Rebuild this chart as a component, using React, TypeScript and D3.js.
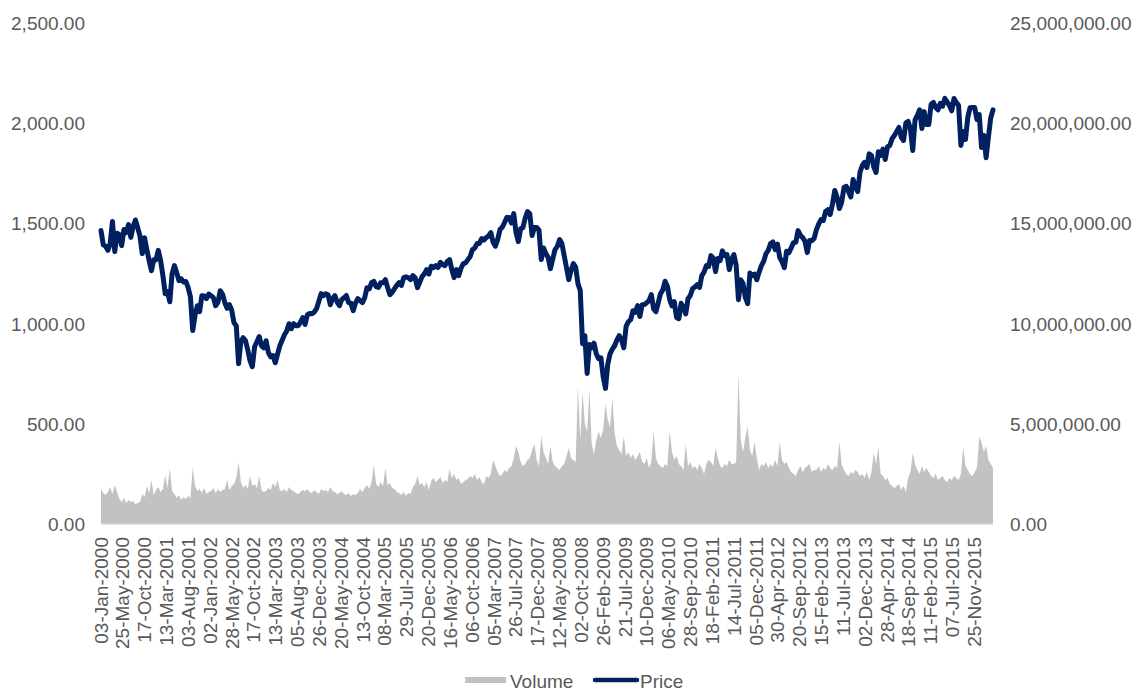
import React from "react";
import * as d3 from "d3";

// Category labels (every 100th trading day)
const xLabels = [
  "03-Jan-2000", "25-May-2000", "17-Oct-2000", "13-Mar-2001", "03-Aug-2001",
  "02-Jan-2002", "28-May-2002", "17-Oct-2002", "13-Mar-2003", "05-Aug-2003",
  "26-Dec-2003", "20-May-2004", "13-Oct-2004", "08-Mar-2005", "29-Jul-2005",
  "20-Dec-2005", "16-May-2006", "06-Oct-2006", "05-Mar-2007", "26-Jul-2007",
  "17-Dec-2007", "12-May-2008", "02-Oct-2008", "26-Feb-2009", "21-Jul-2009",
  "10-Dec-2009", "06-May-2010", "28-Sep-2010", "18-Feb-2011", "14-Jul-2011",
  "05-Dec-2011", "30-Apr-2012", "20-Sep-2012", "15-Feb-2013", "11-Jul-2013",
  "02-Dec-2013", "28-Apr-2014", "18-Sep-2014", "11-Feb-2015", "07-Jul-2015",
  "25-Nov-2015",
];
const labelEvery = 100;
const tradingDays = 4086;

// Price, two readings per month
const price2000 = [1465, 1394, 1387, 1366, 1400, 1510, 1360, 1452, 1445, 1390, 1470, 1455, 1495, 1431, 1485, 1518, 1480, 1437, 1350, 1429, 1370, 1315, 1265, 1320];
const price2001 = [1320, 1366, 1315, 1240, 1150, 1160, 1110, 1249, 1290, 1256, 1215, 1224, 1208, 1211, 1180, 1134, 966, 1041, 1090, 1060, 1140, 1139, 1125, 1148];
const price2002 = [1140, 1130, 1090, 1107, 1165, 1147, 1105, 1077, 1095, 1067, 1005, 990, 800, 912, 930, 916, 870, 815, 785, 886, 910, 936, 890, 880];
const price2003 = [915, 856, 835, 841, 805, 848, 890, 917, 945, 964, 1000, 975, 1000, 990, 990, 1008, 1030, 996, 1045, 1051, 1050, 1058, 1075, 1112];
const price2004 = [1150, 1140, 1150, 1145, 1095, 1126, 1140, 1107, 1090, 1121, 1130, 1141, 1105, 1102, 1065, 1104, 1125, 1115, 1105, 1130, 1180, 1174, 1205, 1212];
const price2005 = [1185, 1181, 1205, 1204, 1220, 1181, 1145, 1157, 1175, 1192, 1205, 1191, 1230, 1234, 1230, 1220, 1240, 1229, 1180, 1207, 1235, 1249, 1270, 1248];
const price2006 = [1287, 1280, 1290, 1281, 1307, 1295, 1290, 1311, 1320, 1270, 1230, 1270, 1240, 1277, 1300, 1304, 1320, 1336, 1370, 1378, 1400, 1401, 1425, 1418];
const price2007 = [1430, 1438, 1455, 1407, 1387, 1421, 1470, 1482, 1505, 1531, 1530, 1503, 1550, 1455, 1410, 1474, 1480, 1527, 1560, 1549, 1440, 1481, 1480, 1468];
const price2008 = [1320, 1378, 1350, 1331, 1275, 1323, 1370, 1386, 1420, 1400, 1340, 1280, 1220, 1267, 1300, 1283, 1200, 1166, 900, 940, 752, 896, 880, 903];
const price2009 = [850, 826, 830, 735, 677, 798, 850, 873, 890, 919, 940, 919, 880, 987, 1010, 1021, 1065, 1057, 1090, 1036, 1095, 1096, 1105, 1115];
const price2010 = [1145, 1074, 1060, 1104, 1150, 1169, 1212, 1187, 1120, 1089, 1110, 1031, 1025, 1102, 1080, 1049, 1125, 1141, 1175, 1183, 1195, 1181, 1240, 1258];
const price2011 = [1290, 1286, 1340, 1327, 1260, 1326, 1315, 1364, 1340, 1345, 1270, 1321, 1345, 1292, 1120, 1219, 1200, 1131, 1100, 1253, 1240, 1247, 1220, 1258];
const price2012 = [1290, 1312, 1350, 1366, 1400, 1408, 1370, 1398, 1330, 1310, 1280, 1362, 1355, 1379, 1405, 1407, 1465, 1441, 1430, 1412, 1355, 1416, 1415, 1426];
const price2013 = [1470, 1498, 1520, 1515, 1560, 1569, 1545, 1598, 1665, 1631, 1575, 1606, 1680, 1686, 1660, 1633, 1720, 1682, 1660, 1757, 1790, 1806, 1780, 1848];
const price2014 = [1840, 1783, 1755, 1859, 1840, 1872, 1820, 1884, 1890, 1924, 1940, 1960, 1980, 1931, 1915, 2003, 2010, 1972, 1865, 2018, 2040, 2068, 1975, 2059];
const price2015 = [1995, 1995, 2095, 2105, 2080, 2068, 2100, 2086, 2125, 2107, 2090, 2063, 2125, 2104, 2090, 1890, 1960, 1920, 2030, 2079, 2080, 2080, 2020, 2044];
const price2016 = [1880, 1940, 1829, 1932, 2027, 2068];

// Volume (millions), two readings per month
const volume2000 = [1.75, 1.55, 1.45, 1.6, 1.85, 1.5, 1.95, 1.6, 1.25, 1.1, 1.3, 1.05, 1.2, 1.1, 1.15, 1.0, 1.05, 1.1, 1.5, 1.35, 1.9, 1.55, 2.2, 1.45];
const volume2001 = [1.7, 1.85, 1.6, 1.75, 2.45, 1.8, 2.8, 1.65, 1.5, 1.3, 1.45, 1.2, 1.35, 1.25, 1.4, 1.3, 2.85, 1.9, 1.65, 1.75, 1.55, 1.8, 1.5, 1.6];
const volume2002 = [1.65, 1.8, 1.55, 1.75, 1.6, 1.7, 1.75, 2.2, 1.7, 1.9, 2.0, 2.3, 3.1, 2.1, 1.8, 1.95, 1.75, 2.4, 1.9, 2.0, 1.8, 2.4, 1.7, 1.6];
const volume2003 = [1.65, 1.8, 1.7, 2.05, 1.85, 2.2, 1.7, 1.65, 1.75, 1.6, 1.85, 1.7, 1.65, 1.55, 1.5, 1.6, 1.7, 1.65, 1.75, 1.6, 1.55, 1.7, 1.6, 1.5];
const volume2004 = [1.75, 1.65, 1.7, 1.6, 1.85, 1.65, 1.6, 1.5, 1.55, 1.65, 1.5, 1.45, 1.55, 1.4, 1.5, 1.45, 1.55, 1.75, 1.6, 1.8, 1.95, 1.75, 2.1, 2.95];
const volume2005 = [2.0, 1.85, 2.1, 1.9, 2.8, 1.95, 2.05, 1.8, 1.75, 1.6, 1.55, 1.45, 1.6, 1.4, 1.55, 1.5, 1.85, 2.0, 2.4, 1.95, 2.05, 1.85, 2.1, 1.7];
const volume2006 = [2.15, 2.3, 2.1, 2.2, 2.35, 2.05, 2.2, 2.1, 2.75, 2.3, 2.5, 2.2, 2.3, 2.0, 2.1, 2.2, 2.25, 2.4, 2.3, 2.5, 2.2, 2.35, 2.1, 2.0];
const volume2007 = [2.4, 2.3, 2.5, 3.2, 2.9, 2.6, 2.4, 2.5, 2.7, 2.6, 2.8, 2.9, 3.3, 3.9, 3.6, 3.1, 2.9, 3.0, 3.2, 3.3, 3.7, 4.0, 3.2, 2.9];
const volume2008 = [4.4, 3.6, 3.3, 3.0, 3.9, 3.1, 2.9, 2.8, 2.7, 2.9, 3.0, 3.4, 3.8, 3.3, 3.2, 3.1, 6.85, 4.2, 6.6, 5.0, 4.6, 6.7, 4.0, 3.5];
const volume2009 = [4.2, 4.6, 4.3, 4.7, 6.0, 5.2, 4.8, 6.3, 4.5, 3.9, 3.7, 3.5, 4.4, 3.4, 3.6, 3.3, 3.5, 3.2, 3.4, 3.6, 3.1, 3.0, 3.3, 2.8];
const volume2010 = [3.1, 4.6, 3.3, 3.0, 2.9, 2.8, 3.0, 2.9, 4.65, 3.6, 3.2, 3.4, 3.0, 2.9, 2.7, 4.0, 2.9, 3.1, 2.8, 2.9, 2.7, 3.0, 2.8, 2.5];
const volume2011 = [3.0, 3.2, 3.1, 2.9, 3.8, 3.3, 2.9, 2.8, 3.0, 2.9, 3.2, 3.0, 3.0, 3.1, 7.5, 4.2, 3.6, 4.35, 4.85, 3.7, 3.4, 4.1, 3.3, 2.7];
const volume2012 = [3.0, 2.9, 3.1, 2.8, 3.0, 2.85, 3.2, 2.9, 4.1, 3.2, 3.0, 3.1, 2.8, 2.6, 2.5, 2.4, 2.7, 2.9, 2.6, 2.8, 2.9, 3.0, 2.6, 2.7];
const volume2013 = [2.7, 2.9, 2.6, 2.8, 2.7, 3.0, 2.8, 2.7, 2.9, 2.8, 4.1, 3.0, 2.7, 2.5, 2.4, 2.6, 2.5, 2.7, 2.6, 2.4, 2.5, 2.3, 2.6, 2.2];
const volume2014 = [2.6, 3.55, 3.0, 3.85, 2.5, 2.4, 2.2, 2.3, 2.0, 1.9, 1.8, 1.9, 2.0, 1.7, 1.9, 1.6, 2.3, 2.6, 3.55, 3.0, 2.7, 2.5, 2.9, 2.6];
const volume2015 = [2.8, 2.6, 2.4, 2.3, 2.5, 2.2, 2.3, 2.4, 2.2, 2.1, 2.3, 2.2, 2.4, 2.3, 2.2, 2.5, 3.85, 2.9, 2.7, 2.5, 2.4, 2.6, 2.8, 4.35];
const volume2016 = [4.1, 3.6, 3.9, 3.2, 3.0, 2.8];

const leftTicks = [0, 500, 1000, 1500, 2000, 2500];
const rightTicks = [0, 5000000, 10000000, 15000000, 20000000, 25000000];

const FONT = "'Liberation Sans', Arial, Helvetica, sans-serif";
const TEXT = "#595959";
const NAVY = "#002060";
const GRAY = "#C2C2C2";

export default function App() {
  const W = 1144;
  const H = 692;
  const left = 101;
  const right = 993;
  const top = 23.3;
  const bottom = 524;

  const price = [
    ...price2000, ...price2001, ...price2002, ...price2003, ...price2004, ...price2005,
    ...price2006, ...price2007, ...price2008, ...price2009, ...price2010, ...price2011,
    ...price2012, ...price2013, ...price2014, ...price2015, ...price2016,
  ];
  const volume = [
    ...volume2000, ...volume2001, ...volume2002, ...volume2003, ...volume2004, ...volume2005,
    ...volume2006, ...volume2007, ...volume2008, ...volume2009, ...volume2010, ...volume2011,
    ...volume2012, ...volume2013, ...volume2014, ...volume2015, ...volume2016,
  ].map((v) => v * 1e6);

  const x = d3.scaleLinear().domain([0, tradingDays - 1]).range([left, right]);
  const yL = d3.scaleLinear().domain([0, 2500]).range([bottom, top]);
  const yR = d3.scaleLinear().domain([0, 25000000]).range([bottom, top]);
  const pStep = (tradingDays - 1) / (price.length - 1);
  const vStep = (tradingDays - 1) / (volume.length - 1);

  const linePath = d3
    .line<number>()
    .x((_, i) => x(i * pStep))
    .y((d) => yL(d))(price) || "";
  const areaPath = d3
    .area<number>()
    .x((_, i) => x(i * vStep))
    .y0(bottom)
    .y1((d) => yR(d))(volume) || "";

  const fmt = d3.format(",.2f");
  const fs = 19;

  return (
    <svg
      width={W}
      height={H}
      style={{ position: "absolute", left: 0, top: 0, background: "#fff" }}
      fontFamily={FONT}
    >
      <path d={areaPath} fill={GRAY} stroke="none" />
      <line x1={left} x2={right} y1={bottom} y2={bottom} stroke="#D9D9D9" strokeWidth={1.5} />
      <path
        d={linePath}
        fill="none"
        stroke={NAVY}
        strokeWidth={5}
        strokeLinejoin="round"
        strokeLinecap="round"
      />
      {leftTicks.map((t) => (
        <text key={"l" + t} x={85} y={yL(t)} dy="0.36em" textAnchor="end" fontSize={fs} fill={TEXT}>
          {fmt(t)}
        </text>
      ))}
      {rightTicks.map((t) => (
        <text key={"r" + t} x={1010} y={yR(t)} dy="0.36em" textAnchor="start" fontSize={fs} fill={TEXT}>
          {fmt(t)}
        </text>
      ))}
      {xLabels.map((lab, i) => {
        const px = x(i * labelEvery);
        return (
          <text
            key={lab}
            transform={`translate(${px + 6.5},537) rotate(-90)`}
            textAnchor="end"
            fontSize={fs}
            fill={TEXT}
          >
            {lab}
          </text>
        );
      })}
      <g>
        <rect x={465} y={677} width={41} height={6} fill={GRAY} />
        <text x={510} y={688} fontSize={fs} fill={TEXT}>Volume</text>
        <line x1={595} x2={637} y1={680} y2={680} stroke={NAVY} strokeWidth={4.5} strokeLinecap="round" />
        <text x={640} y={688} fontSize={fs} fill={TEXT}>Price</text>
      </g>
    </svg>
  );
}
